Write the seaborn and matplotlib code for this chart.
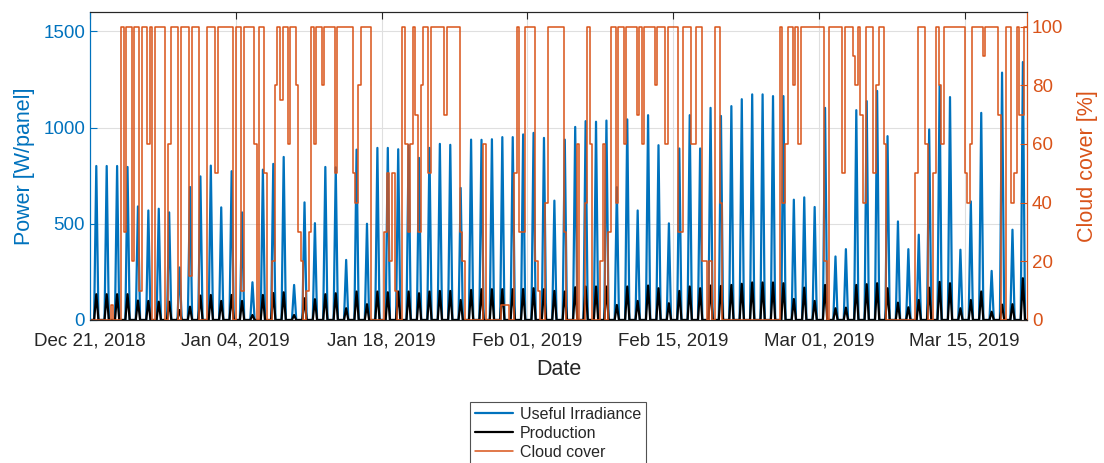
import numpy as np
import pandas as pd
import matplotlib
matplotlib.use("Agg")
import matplotlib.pyplot as plt
import matplotlib.dates as mdates
import seaborn as sns

# ---------------- data ----------------
START = "2018-12-21"
END = "2019-03-21"

# daily peak of useful irradiance [W/panel], one value per day from Dec 21
irradiance_peak = [800, 800, 800, 795, 590, 569, 578, 559, 273, 691, 746, 802, 585, 773, 559,
                   196, 781, 811, 847, 182, 611, 503, 795, 793, 312, 885, 500, 894, 894, 887,
                   908, 842, 894, 915, 910, 686, 937, 936, 939, 950, 950, 964, 972, 946, 620,
                   937, 1003, 1033, 1030, 1036, 690, 1042, 569, 1064, 908, 502, 891, 1064, 891, 1102,
                   1060, 1111, 1147, 1172, 1172, 1163, 1163, 625, 637, 587, 1102, 330, 368, 1090, 1137,
                   1190, 955, 512, 368, 443, 990, 1219, 1158, 365, 616, 1076, 255, 1285, 469, 1340]

# daily peak of production [W/panel]
production_peak = [134, 134, 134, 134, 101, 99, 95, 95, 52, 69, 127, 130, 99, 130, 99,
                   26, 130, 140, 144, 26, 113, 108, 134, 139, 61, 148, 82, 148, 144, 148,
                   148, 139, 148, 151, 151, 104, 156, 160, 160, 160, 160, 161, 165, 160, 151,
                   148, 170, 174, 174, 174, 78, 174, 99, 179, 165, 87, 151, 174, 165, 179,
                   177, 182, 188, 195, 195, 195, 191, 109, 168, 99, 182, 61, 64, 182, 186,
                   191, 165, 90, 66, 104, 168, 198, 191, 61, 104, 148, 43, 80, 82, 217]

# cloud cover [%], four 6-hour values per day (00h, 06h, 12h, 18h)
cloud_cover = [
    0, 0, 0, 0,        0, 0, 0, 0,        5, 0, 0, 0,        100, 30, 100, 100,
    20, 100, 100, 10,  100, 100, 60, 100, 0, 100, 100, 100,  100, 0, 60, 100,
    100, 100, 0, 100,  100, 100, 15, 100, 100, 100, 0, 0,    0, 100, 100, 100,
    50, 100, 100, 100, 100, 100, 100, 0,  100, 100, 10, 100,
    100, 100, 100, 60, 0, 100, 100, 50,   0, 0, 20, 80,      100, 75, 100, 100,
    60, 100, 100, 80,  30, 20, 0, 10,     30, 100, 60, 100,  100, 80, 100, 100,
    100, 100, 50, 100, 100, 100, 100, 100, 100, 50, 40, 80,  100, 100, 100, 100,
    0, 0, 0, 0,        0, 30, 50, 20,     50, 10, 0, 0,
    100, 60, 30, 60,   100, 70, 30, 80,   100, 100, 50, 100, 100, 100, 100, 100,
    70, 100, 100, 100, 100, 100, 30, 20,  0, 0, 0, 0,        0, 0, 0, 60,
    0, 0, 0, 0,        0, 0, 5, 5,        5, 0, 0, 50,       100, 30, 30, 100,
    100, 100, 100, 20, 10, 0, 0, 40,      100, 100, 100, 100,
    100, 100, 30, 0,   0, 0, 0, 60,       0, 0, 40, 100,     60, 0, 0, 0,
    20, 60, 0, 30,     100, 100, 40, 100, 100, 60, 100, 100, 100, 100, 70, 100,
    60, 100, 100, 100, 100, 80, 100, 100, 100, 60, 100, 100, 100, 100, 30, 30,
    100, 100, 100, 60, 60, 100, 100, 20,  20, 0, 20, 0,
    100, 100, 40, 0,   0, 0, 0, 0,        0, 0, 0, 0,        0, 0, 0, 0,
    0, 0, 0, 0,        0, 0, 0, 0,        0, 100, 40, 60,    100, 100, 80, 100,
    60, 100, 100, 100, 100, 100, 100, 100, 100, 100, 20, 0,  100, 100, 100, 100,
    100, 50, 100, 100, 100, 90, 80, 100,  70, 40, 100, 100,
    100, 50, 80, 100,  100, 60, 0, 0,     0, 0, 0, 0,        0, 0, 0, 0,
    0, 50, 100, 100,   100, 60, 0, 0,     50, 100, 80, 60,   100, 100, 100, 100,
    100, 100, 100, 100, 50, 40, 60, 100,  100, 100, 100, 90, 100, 100, 100, 100,
    100, 70, 0, 0,     100, 100, 40, 50,  100, 70, 70, 100,
]

SUNRISE_H, PEAK_H, SUNSET_H = 9.5, 14.5, 19.5

# ---------------- build time series ----------------
days = pd.date_range(START, periods=len(irradiance_peak), freq="D")
t_pow = [pd.Timestamp(START)]
irr = [0.0]
prod = [0.0]
for d, ip, pp in zip(days, irradiance_peak, production_peak):
    t_pow += [d + pd.Timedelta(hours=SUNRISE_H), d + pd.Timedelta(hours=PEAK_H),
              d + pd.Timedelta(hours=SUNSET_H)]
    irr += [0.0, ip, 0.0]
    prod += [0.0, pp, 0.0]
t_pow.append(pd.Timestamp(END))
irr.append(0.0)
prod.append(0.0)
power_df = pd.DataFrame({"time": t_pow, "irr": irr, "prod": prod})

t_cloud = list(pd.date_range(START, periods=len(cloud_cover), freq="6h")) + [pd.Timestamp(END)]
cloud_df = pd.DataFrame({"time": t_cloud, "cloud": cloud_cover + [cloud_cover[-1]]})

# ---------------- style ----------------
sns.set_style("white")
plt.rcParams["font.family"] = ["Liberation Sans", "DejaVu Sans"]

BLUE = "#0072BD"
ORANGE = "#D95319"
DARK = "#262626"

fig = plt.figure(figsize=(11.04, 4.63), dpi=100)
ax = fig.add_axes([90 / 1104, 1 - 320 / 463, (1027 - 90) / 1104, (320 - 12) / 463])

sns.lineplot(data=power_df, x="time", y="irr", ax=ax, color=BLUE, linewidth=1.6,
             estimator=None, label="Useful Irradiance")
sns.lineplot(data=power_df, x="time", y="prod", ax=ax, color="black", linewidth=1.6,
             estimator=None, label="Production")

ax2 = ax.twinx()
sns.lineplot(data=cloud_df, x="time", y="cloud", ax=ax2, color=ORANGE, linewidth=1.1,
             estimator=None, drawstyle="steps-post", label="Cloud cover")

# axes limits / ticks
ax.set_xlim(pd.Timestamp(START), pd.Timestamp(END))
ax.set_ylim(0, 1600)
ax2.set_ylim(0, 105)
ax.set_yticks([0, 500, 1000, 1500])
ax2.set_yticks([0, 20, 40, 60, 80, 100])
ticks = pd.date_range(START, END, freq="14D")
ax.set_xticks(ticks)
ax.set_xticklabels([d.strftime("%b %d, %Y") for d in ticks])

ax.grid(True, color="#dfdfdf", linewidth=0.8)
ax.set_axisbelow(True)

ax.tick_params(axis="x", direction="in", top=True, colors=DARK, labelsize=13.5, length=5, pad=9)
ax.tick_params(axis="y", direction="in", colors=BLUE, labelsize=13.5, length=5)
ax2.tick_params(axis="y", direction="in", colors=ORANGE, labelsize=13.5, length=5)

for side in ["top", "bottom"]:
    ax.spines[side].set_color(DARK)
ax.spines["left"].set_color(BLUE)
ax2.spines["left"].set_color(BLUE)
ax2.spines["right"].set_color(ORANGE)
ax2.spines["top"].set_color(DARK)
ax2.spines["bottom"].set_color(DARK)

ax.set_xlabel("Date", fontsize=15.5, color=DARK, labelpad=7)
ax.set_ylabel("Power [W/panel]", fontsize=15.5, color=BLUE, labelpad=6)
ax2.set_ylabel("Cloud cover [%]", fontsize=15.5, color=ORANGE, labelpad=10)

# legend below the chart
h1, l1 = ax.get_legend_handles_labels()
h2, l2 = ax2.get_legend_handles_labels()
ax.get_legend().remove()
ax2.get_legend().remove()
leg = fig.legend(h1 + h2, l1 + l2, loc="upper center", bbox_to_anchor=(558 / 1104, 1 - 394 / 463),
                 fontsize=11.5, frameon=True, fancybox=False, edgecolor=DARK,
                 handlelength=2.4, borderpad=0.3, labelspacing=0.25, handletextpad=0.4)
leg.get_frame().set_linewidth(0.8)

fig.savefig("out.png", dpi=100)
